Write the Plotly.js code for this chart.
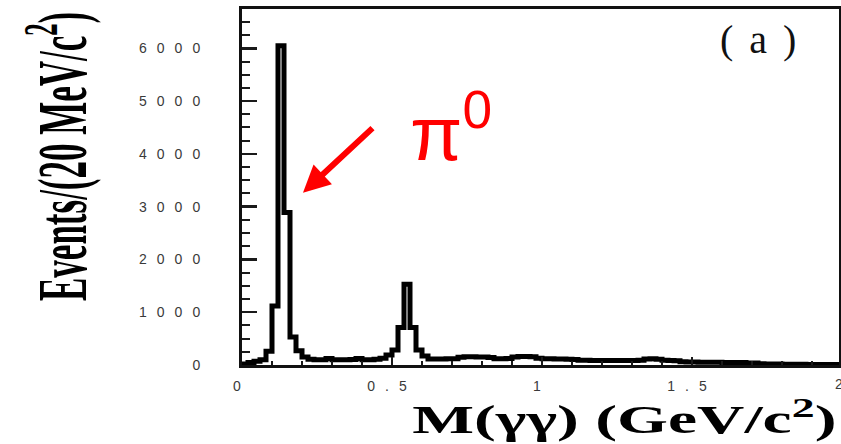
<!DOCTYPE html>
<html><head><meta charset="utf-8">
<script src="https://cdn.plot.ly/plotly-3.0.1.min.js"></script>
<style>body{margin:0;background:#fff}</style>
</head><body><div id="chart" style="width:841px;height:444px"></div>
<script>
const binWidth = 0.02;
const counts = [
  20, 45, 70, 100, 260, 1120, 6050, 2890, 530, 270,
  150, 110, 100, 100, 125, 100, 100, 100, 105, 125,
  100, 100, 110, 130, 190, 285, 710, 1530, 710, 285,
  170, 115, 115, 115, 120, 120, 145, 155, 155, 150,
  150, 140, 120, 120, 125, 150, 160, 160, 155, 130,
  120, 120, 115, 115, 110, 105, 90, 90, 85, 85,
  85, 85, 85, 85, 85, 85, 90, 115, 120, 110,
  90, 85, 80, 60, 55, 55, 50, 50, 50, 50,
  45, 45, 45, 45, 40, 40, 25, 20, 20, 20,
  15, 15, 15, 15, 10, 10, 10, 10, 10, 10
];
const yTickVals = [0, 1000, 2000, 3000, 4000, 5000, 6000];
const yTickText = ['0', '1000', '2000', '3000', '4000', '5000', '6000'];
const yMinorStep = 250;
const xTickVals = [0, 0.5, 1, 1.5];
const xTickText = ['0', '0.5', '1', '1.5'];
const xMinorStep = 0.1;
const xTitle = 'M(γγ) (GeV/c<sup>2</sup>)';
const yTitle = 'Events/(20 MeV/c<sup>2</sup>)';
const panelLabel = '(a)';
const peakLabel = 'π<sup>0</sup>';

const W = 841, H = 444;
const margin = {l: 242, r: 2, t: 9, b: 79};
const yMax = 6745, xMax = 1.99;

// histogram outline
const xs = [0], ys = [0];
counts.forEach((c, i) => { xs.push(i * binWidth); ys.push(c); });
xs.push(counts.length * binWidth); ys.push(counts[counts.length - 1]);

const trace = {
  type: 'scatter', mode: 'lines', x: xs, y: ys,
  line: {shape: 'hv', color: '#000', width: 5},
  hoverinfo: 'skip'
};

const tickFont = {family: 'Liberation Sans, Arial, sans-serif', size: 14, color: '#3a3a3a'};

const layout = {
  width: W, height: H,
  margin: margin,
  paper_bgcolor: '#fff', plot_bgcolor: '#fff',
  showlegend: false,
  xaxis: {
    range: [0, xMax], showline: true, mirror: true, linecolor: '#111', linewidth: 3,
    showgrid: false, zeroline: false,
    ticks: 'inside', ticklen: 8, tickwidth: 2.5, tickcolor: '#1a1a1a',
    tickmode: 'array', tickvals: xTickVals, ticktext: xTickText, tickfont: tickFont,
    ticklabelstandoff: 6,
    minor: {ticks: 'inside', ticklen: 4, tickwidth: 2, tickcolor: '#1a1a1a',
            tickmode: 'linear', tick0: 0, dtick: xMinorStep, showgrid: false}
  },
  yaxis: {
    range: [0, yMax], showline: true, mirror: true, linecolor: '#111', linewidth: 3,
    showgrid: false, zeroline: false,
    ticks: 'inside', ticklen: 15, tickwidth: 2.5, tickcolor: '#1a1a1a',
    tickmode: 'array', tickvals: yTickVals, ticktext: yTickText, tickfont: tickFont,
    ticklabelstandoff: 26,
    minor: {ticks: 'inside', ticklen: 8, tickwidth: 2, tickcolor: '#1a1a1a',
            tickmode: 'linear', tick0: 0, dtick: yMinorStep, showgrid: false}
  },
  annotations: [
    {xref: 'paper', yref: 'paper', x: -0.3082, y: 0.5843, xanchor: 'center', yanchor: 'middle',
     text: yTitle, textangle: -90, showarrow: false,
     font: {family: 'Liberation Serif, Times New Roman, serif', size: 35, color: '#000', weight: 'bold'}},
    {xref: 'paper', yref: 'paper', x: 0.6415, y: -0.147, xanchor: 'center', yanchor: 'middle',
     text: xTitle, showarrow: false,
     font: {family: 'Liberation Serif, Times New Roman, serif', size: 39, color: '#000', weight: 'bold'}},
    {xref: 'paper', yref: 'paper', x: 0.878, y: 0.913, xanchor: 'center', yanchor: 'middle',
     text: panelLabel, showarrow: false,
     font: {family: 'Liberation Serif, Times New Roman, serif', size: 40, color: '#111'}},
    {xref: 'paper', yref: 'paper', x: 0.3501, y: 0.666, xanchor: 'center', yanchor: 'middle',
     text: peakLabel, showarrow: false,
     font: {family: 'Liberation Sans, Arial, sans-serif', size: 76, color: '#ff0000'}},
    {xref: 'x', yref: 'y', x: 0.2033, y: 3264, ax: 71, ay: -66, axref: 'pixel', ayref: 'pixel',
     text: '', showarrow: true, arrowhead: 2, arrowsize: 0.9, arrowwidth: 6, arrowcolor: '#ff0000'},
    {xref: 'paper', yref: 'paper', x: 1.0, y: 0, yshift: -19, xanchor: 'center', yanchor: 'middle',
     text: '2', showarrow: false, font: tickFont}
  ]
};

const gd = document.getElementById('chart');
Plotly.newPlot(gd, [trace], layout, {displayModeBar: false, staticPlot: true}).then(() => {
  gd.querySelectorAll('.ytick text, .xtick text').forEach(t => { t.style.letterSpacing = '10px'; });
  gd.querySelectorAll('.annotation-text').forEach(t => {
    const s = t.textContent;
    if (s === '(a)') t.style.letterSpacing = '16px';
    if (s.indexOf('Events') === 0) {
      const b = t.getBBox();
      const cx = b.x + b.width / 2, cy = b.y + b.height / 2;
      t.setAttribute('transform', `translate(${cx},${cy}) scale(1,2.0) translate(${-cx},${-cy})`);
    }
    if (s.indexOf('M(') === 0) {
      const b = t.getBBox();
      const cx = b.x + b.width / 2, cy = b.y + b.height / 2;
      t.setAttribute('transform', `translate(${cx},${cy}) scale(1.68,1) translate(${-cx},${-cy})`);
    }
  });
});
</script>
</body></html>
